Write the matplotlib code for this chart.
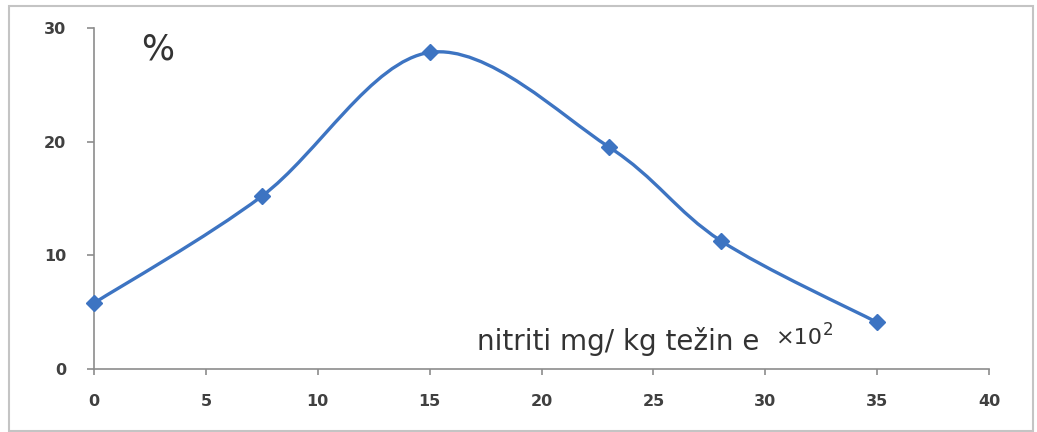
import numpy as np
import matplotlib
matplotlib.use("Agg")
import matplotlib.pyplot as plt
from matplotlib.path import Path
from matplotlib.patches import PathPatch, Rectangle

plt.rcParams["font.family"] = ["DejaVu Sans"]

# ---- data ----
x_vals = [0, 7.5, 15, 23, 28, 35]
y_vals = [5.8, 15.2, 27.85, 19.55, 11.3, 4.1]
x_ticks = [0, 5, 10, 15, 20, 25, 30, 35, 40]
y_ticks = [0, 10, 20, 30]
y_title = "%"
x_title = "nitriti mg/ kg težin e"
x_title_mult = "×10"
x_title_exp = "2"

W, H = 1037, 432
fig = plt.figure(figsize=(W / 100, H / 100), dpi=100)
fig.patch.set_facecolor("white")

# outer chart border
fig.patches.append(Rectangle((9 / W, 1 / H), (1033 - 9) / W, (431 - 6) / H,
                             transform=fig.transFigure, fill=False,
                             edgecolor="#c4c4c4", linewidth=1.5))

ax = fig.add_axes([94 / W, 1 - 369 / H, (989 - 94) / W, (369 - 28) / H])
ax.set_xlim(0, 40)
ax.set_ylim(0, 30)
ax.set_facecolor("none")
for s in ("top", "right"):
    ax.spines[s].set_visible(False)
for s in ("left", "bottom"):
    ax.spines[s].set_color("#8c8c8c")
    ax.spines[s].set_linewidth(1.2)
ax.set_xticks(x_ticks)
ax.set_yticks(y_ticks)
ax.tick_params(axis="x", direction="out", length=4, width=1.2, color="#8c8c8c",
               pad=14, labelsize=11.5, labelcolor="#404040")
ax.tick_params(axis="y", direction="out", length=5, width=1.2, color="#8c8c8c",
               pad=15, labelsize=11.5, labelcolor="#404040")
for lab in ax.get_xticklabels() + ax.get_yticklabels():
    lab.set_fontweight("bold")

# Excel-style smoothed line (Catmull-Rom Bezier in display space)
color = "#3D74C2"
pts = ax.transData.transform(np.column_stack([x_vals, y_vals]))
n = len(pts)
verts = [pts[0]]
codes = [Path.MOVETO]
for i in range(n - 1):
    p0 = pts[i - 1] if i > 0 else pts[i]
    p1 = pts[i]
    p2 = pts[i + 1]
    p3 = pts[i + 2] if i + 2 < n else pts[i + 1]
    c1 = p1 + (p2 - p0) / 6.0
    c2 = p2 - (p3 - p1) / 6.0
    verts += [c1, c2, p2]
    codes += [Path.CURVE4] * 3
verts_data = ax.transData.inverted().transform(np.array(verts))
ax.add_patch(PathPatch(Path(verts_data, codes), fill=False, edgecolor=color,
                       linewidth=2.4, transform=ax.transData, clip_on=False,
                       capstyle="round", joinstyle="round"))
ax.plot(x_vals, y_vals, linestyle="none", marker="D", markersize=8,
        color=color, clip_on=False, zorder=5)

# labels inside the plot
fig.text(141 / W, 1 - 50 / H, y_title, fontsize=25, color="#333333",
         family="DejaVu Sans", va="center", ha="left")
fig.text(477 / W, 1 - 350 / H, x_title, fontsize=20, color="#333333",
         family="DejaVu Sans", va="baseline", ha="left")
fig.text(776 / W, 1 - 344 / H, x_title_mult, fontsize=16, color="#333333",
         family="DejaVu Sans", va="baseline", ha="left")
fig.text(823 / W, 1 - 335 / H, x_title_exp, fontsize=12, color="#333333",
         family="DejaVu Sans", va="baseline", ha="left")

fig.savefig("out.png", dpi=100, facecolor="white")
